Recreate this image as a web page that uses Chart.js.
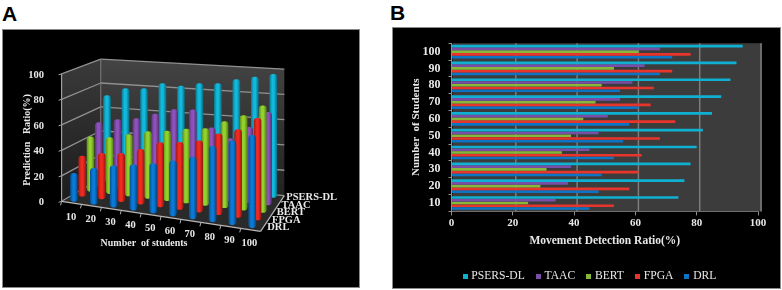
<!DOCTYPE html>
<html><head><meta charset="utf-8">
<script src="https://cdn.jsdelivr.net/npm/chart.js@4"></script>
<style>
html,body{margin:0;padding:0;background:#fff;width:782px;height:290px;overflow:hidden}
.panel{position:absolute;background:#000;box-sizing:border-box;border:1px solid #8a8a8a}
#pa{left:2px;top:29px;width:358px;height:259px}
#pb{left:392px;top:27px;width:389px;height:262px}
canvas{display:block;filter:blur(0.45px)}
.tag{position:absolute;font:bold 21px "Liberation Sans",Arial,sans-serif;color:#000;line-height:21px}
</style></head><body>
<div class="tag" style="left:2px;top:3px">A</div>
<div class="tag" style="left:390px;top:2px">B</div>
<div class="panel" id="pa"><canvas id="ca" width="356" height="257"></canvas></div>
<div class="panel" id="pb"><canvas id="cb" width="387" height="260"></canvas></div>
<script>
const categories=["10","20","30","40","50","60","70","80","90","100"];
const seriesNames=["PSERS-DL","TAAC","BERT","FPGA","DRL"];
const valueTicks=[0,20,40,60,80,100];
const detectionTicks=[0,20,40,60,80,100];

// Panel A values
const predPSERS=[71,78,79,84,83,86,87,91,94,97];
const predTAAC=[52,56,58,63,68,69,56,49,59,72];
const predBERT=[44,45,49,53,55,58,60,67,73,82];
const predFPGA=[32,36,38,43,50,52,55,62,67,77];
const predDRL=[22,28,32,35,38,42,47,57,63,69];

// Panel B values
const movePSERS=[74,76,78,80,82,85,88,91,93,95];
const moveTAAC=[34,38,39,45,48,51,55,59,63,68];
const moveBERT=[25,29,31,36,39,43,47,49,53,61];
const moveFPGA=[53,58,61,62,68,73,65,66,72,78];
const moveDRL=[45,48,49,53,56,58,61,55,68,72];

const colors3d={"PSERS-DL":"#12b9dc","TAAC":"#8d52bb","BERT":"#92d22c","FPGA":"#f02a20","DRL":"#0a7ad8"};
const colors2d={"PSERS-DL":"#0fb0d2","TAAC":"#7a4ea6","BERT":"#86b83a","FPGA":"#e8352c","DRL":"#0c74c4"};
const SERIF='"Liberation Serif","Times New Roman",serif';
const TXT='#e8e8e8';

// ---- oblique projection for the 3D look (category, depth, value -> axis units)
const UY=1.26;
const heightScale=(i,s)=>1.2635+0.007*i-0.0172*s;
const project=(i,s,v)=>({
  x:i+s*(0.417-0.0168*i),
  y:(-(-1+2.9*i-s*(5+0.278*i))+v*heightScale(i,s))/UY
});
const I0=-0.5,I1=9.5,S0=-0.3,S1=4.35;

function shade(h,k){const n=parseInt(h.slice(1),16);return `rgb(${(n>>16)*k|0},${((n>>8)&255)*k|0},${(n&255)*k|0})`;}
function cylinder(name){
  const base=colors3d[name];
  return c=>{
    if(c.type!=='data'||!c.raw)return base;
    const sx=c.chart.scales.x, px=sx.getPixelForValue(c.raw.x);
    if(!isFinite(px))return base;
    const g=c.chart.ctx.createLinearGradient(px-3.5,0,px+3.5,0);
    g.addColorStop(0,shade(base,.7));g.addColorStop(.35,base);g.addColorStop(.6,base);g.addColorStop(1,shade(base,.62));
    return g;
  };
}
const mk3d=(name,s,vals)=>({
  label:name,
  data:vals.map((v,i)=>{const b=project(i,s,0),t=project(i,s,v);return {x:b.x,y:[b.y,t.y]};}),
  backgroundColor:cylinder(name),
  grouped:false,barThickness:7,borderRadius:3.4,borderSkipped:false
});

const walls3d={id:'walls3d',
  beforeDatasetsDraw(ch){
    const {ctx,scales:{x,y}}=ch;
    const P=(i,s,v)=>{const p=project(i,s,v);return [x.getPixelForValue(p.x),y.getPixelForValue(p.y)];};
    const poly=(pts,fill)=>{ctx.beginPath();pts.forEach((p,k)=>k?ctx.lineTo(p[0],p[1]):ctx.moveTo(p[0],p[1]));ctx.closePath();ctx.fillStyle=fill;ctx.fill();};
    const line=(a,b,col,w)=>{ctx.beginPath();ctx.moveTo(a[0],a[1]);ctx.lineTo(b[0],b[1]);ctx.strokeStyle=col;ctx.lineWidth=w;ctx.stroke();};
    ctx.save();
    const lf=P(I0,S0,0),lb=P(I0,S1,0),rb=P(I1,S1,0),rf=P(I1,S0,0);
    const ltop=P(I0,S0,100),btop=P(I0,S1,100),rtop=P(I1,S1,100);
    const g=ctx.createLinearGradient(0,btop[1],0,rb[1]);g.addColorStop(0,'#444');g.addColorStop(1,'#222');
    poly([btop,rtop,rb,lb],g);
    const g2=ctx.createLinearGradient(0,btop[1],0,lf[1]);g2.addColorStop(0,'#3a3a3a');g2.addColorStop(1,'#1c1c1c');
    poly([ltop,btop,lb,lf],g2);
    poly([lf,lb,rb,rf],'#2a2a2a');
    valueTicks.forEach(v=>{
      const a=P(I0,S0,v),b=P(I0,S1,v),c=P(I1,S1,v);
      line(a,b,'#909090',1.3);line(b,c,'#909090',1.3);
      line(a,[a[0]-3,a[1]+1],'#a8a8a8',1);
    });
    line(lf,ltop,'#a0a0a0',1.2);line(lb,btop,'#808080',1);
    line(lf,rf,'#b8b8b8',1.2);line(rf,rb,'#b8b8b8',1.2);
    categories.forEach((c,i)=>{const p=P(i-0.5,S0,0);line(p,[p[0]-1,p[1]+4],'#b0b0b0',1);});
    ctx.restore();
  },
  afterDatasetsDraw(ch){
    const {ctx,scales:{x,y}}=ch;
    const P=(i,s,v)=>{const p=project(i,s,v);return [x.getPixelForValue(p.x),y.getPixelForValue(p.y)];};
    ctx.save();
    ctx.fillStyle=TXT;ctx.textBaseline='middle';
    ctx.font='bold 10.5px '+SERIF;ctx.textAlign='center';
    categories.forEach((c,i)=>{const p=P(i,0,0);ctx.fillText(c,p[0]-3,p[1]+15.5);});
    ctx.textAlign='left';
    ["DRL","FPGA","BERT","TAAC","PSERS-DL"].forEach((n,s)=>{const p=P(9,s,0);ctx.fillText(n,p[0]+15-0.5*s,p[1]);});
    ctx.font='bold 10px '+SERIF;ctx.textAlign='center';
    ctx.fillText('Number  of students',141,213);
    ctx.translate(24,110);ctx.rotate(-Math.PI/2);ctx.fillText('Prediction   Ratio(%)',0,0);
    ctx.restore();
  }
};

new Chart(document.getElementById('ca'),{
  type:'bar',
  data:{datasets:[
    mk3d('DRL',0,predDRL),mk3d('FPGA',1,predFPGA),mk3d('BERT',2,predBERT),mk3d('TAAC',3,predTAAC),mk3d('PSERS-DL',4,predPSERS)
  ]},
  plugins:[walls3d],
  options:{responsive:false,animation:false,
    layout:{padding:0,autoPadding:false},
    plugins:{legend:{display:false},tooltip:{enabled:false},title:{display:false}},
    scales:{
      x:{type:'linear',display:false,offset:false,bounds:'data',min:-0.859,max:14.39},
      y:{type:'linear',bounds:'data',min:-57.8,max:126.8,
        grid:{display:false},border:{display:false},
        afterBuildTicks:a=>{a.ticks=valueTicks.map(v=>({value:v}));},
        afterFit:a=>{a.width=54;},
        ticks:{color:TXT,font:{family:SERIF,size:10.5,weight:'bold'},padding:5,autoSkip:false}
      }
    }
  }
});

// ---- Panel B
const backdrop={id:'backdrop',
  beforeDatasetsDraw(ch){
    const {ctx,chartArea:a,scales:{x}}=ch;
    ctx.save();
    ctx.fillStyle='#3c3c3c';
    ctx.fillRect(a.left+1,a.top,a.right+3-a.left,a.bottom-a.top);
    detectionTicks.forEach(v=>{ if(!v)return;
      const p=x.getPixelForValue(v)+3;
      ctx.beginPath();ctx.moveTo(p,a.top);ctx.lineTo(p,a.bottom);ctx.strokeStyle='#7c7c7c';ctx.lineWidth=1.5;ctx.stroke();
    });
    ctx.restore();
  }
};
const rev=a=>a.slice().reverse();
const mk2d=(name,vals)=>({label:name,data:rev(vals),backgroundColor:colors2d[name],borderWidth:0,
  barPercentage:.96,categoryPercentage:.82});
function swatch(col){const c=document.createElement('canvas');c.width=5;c.height=5;const g=c.getContext('2d');g.fillStyle=col;g.fillRect(0,0,5,5);return c;}
new Chart(document.getElementById('cb'),{
  type:'bar',
  data:{labels:rev(categories),datasets:[
    mk2d('PSERS-DL',movePSERS),mk2d('TAAC',moveTAAC),mk2d('BERT',moveBERT),mk2d('FPGA',moveFPGA),mk2d('DRL',moveDRL)
  ]},
  plugins:[backdrop],
  options:{responsive:false,animation:false,indexAxis:'y',
    layout:{padding:{top:15,right:22,left:0,bottom:-4},autoPadding:false},
    plugins:{tooltip:{enabled:false},title:{display:false},
      legend:{position:'bottom',fullSize:false,align:'start',
        labels:{color:TXT,font:{family:SERIF,size:11.6},usePointStyle:true,pointStyleWidth:1,boxHeight:5,padding:13,
          generateLabels:ch=>Chart.defaults.plugins.legend.labels.generateLabels(ch).map(l=>({...l,pointStyle:swatch(l.fillStyle)}))}}
    },
    scales:{
      x:{type:'linear',min:0,max:100,bounds:'data',
        grid:{drawOnChartArea:false,color:'#909090',tickLength:4},border:{color:'#909090'},
        ticks:{stepSize:20,color:TXT,font:{family:SERIF,size:11,weight:'bold'},padding:1},
        title:{display:true,text:'Movement Detection Ratio(%)',color:TXT,font:{family:SERIF,size:11.5,weight:'bold'},padding:{top:2,bottom:9}},
        afterFit:a=>{a.height=46;}
      },
      y:{grid:{drawOnChartArea:false,color:'#909090',tickLength:3},border:{color:'#909090'},
        ticks:{color:TXT,font:{family:SERIF,size:12,weight:'bold'},padding:8,autoSkip:false},
        title:{display:true,text:'Number  of Students',color:TXT,font:{family:SERIF,size:11,weight:'bold'},padding:{top:17,bottom:2}},
        afterFit:a=>{a.width=58.5;}
      }
    }
  }
});
</script>
</body></html>
